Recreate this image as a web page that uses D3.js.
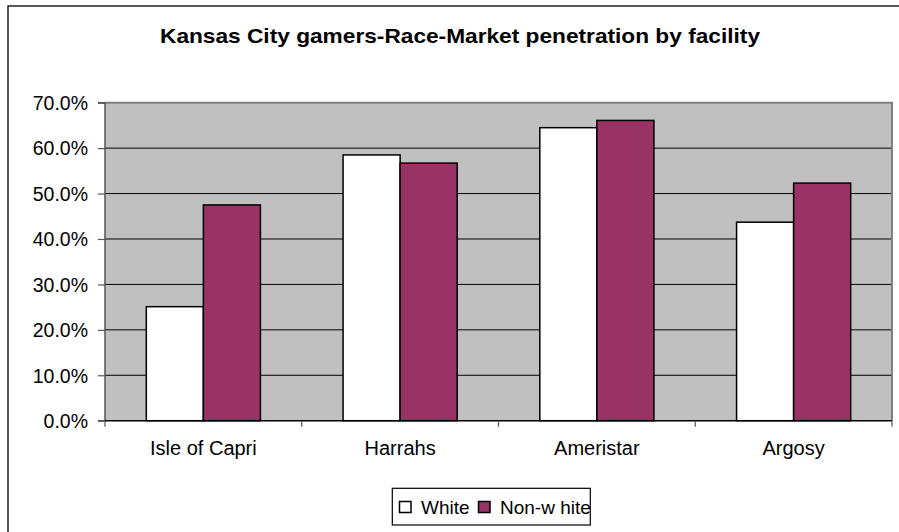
<!DOCTYPE html>
<html><head><meta charset="utf-8">
<script src="https://cdn.jsdelivr.net/npm/d3@7"></script>
<style>body{margin:0;background:#fff}svg{display:block}text{font-family:"Liberation Sans",Arial,sans-serif}</style>
</head><body>
<script>
const categories = ["Isle of Capri", "Harrahs", "Ameristar", "Argosy"];
const seriesNames = ["White", "Non-w hite"];
const white = [25.1, 58.5, 64.5, 43.7];
const nonWhite = [47.5, 56.7, 66.1, 52.3];
const yTicks = [0, 10, 20, 30, 40, 50, 60, 70];
const colors = ["#FFFFFF", "#993366"];
const title = "Kansas City gamers-Race-Market penetration by facility";

const W = 899, H = 532;
const svg = d3.select("body").append("svg").attr("width", W).attr("height", H);

// outer chart border
svg.append("rect").attr("x", 8).attr("y", 6).attr("width", 1000).attr("height", 1000)
  .attr("fill", "#fff").attr("stroke", "#222").attr("stroke-width", 1.5);

const pl = 105, pr = 892, pt = 102.7, pb = 420.7;
const x = d3.scaleBand().domain(categories).range([pl, pr]).paddingInner(0).paddingOuter(0);
const y = d3.scaleLinear().domain([0, 70]).range([pb, pt]);

svg.append("rect").attr("x", pl).attr("y", pt).attr("width", pr - pl).attr("height", pb - pt)
  .attr("fill", "#C0C0C0");

// gridlines
svg.append("g").selectAll("line").data(yTicks.filter(d => d > 0 && d < 70)).join("line")
  .attr("x1", pl).attr("x2", pr).attr("y1", d => y(d)).attr("y2", d => y(d))
  .attr("stroke", "#000").attr("stroke-width", 1);

// plot border top/right
svg.append("path").attr("d", `M${pl},${pt}H${pr}V${pb}`).attr("fill", "none")
  .attr("stroke", "#808080").attr("stroke-width", 2);

// bars
const groupW = x.bandwidth() * 0.58;
const x1 = d3.scaleBand().domain(seriesNames).range([0, groupW]);
const data = categories.map((c, i) => ({c, vals: [white[i], nonWhite[i]]}));
const g = svg.append("g");
data.forEach(d => {
  d.vals.forEach((v, j) => {
    g.append("rect")
      .attr("x", x(d.c) + (x.bandwidth() - groupW) / 2 + x1(seriesNames[j]))
      .attr("y", y(v)).attr("width", x1.bandwidth()).attr("height", y(0) - y(v))
      .attr("fill", colors[j]).attr("stroke", "#000").attr("stroke-width", 1.5);
  });
});

// y axis
const ya = d3.axisLeft(y).tickValues(yTicks).tickFormat(d => d.toFixed(1) + "%").tickSize(7).tickPadding(10);
const yg = svg.append("g").attr("transform", `translate(${pl},0)`).call(ya);
yg.select(".domain").attr("stroke", "#555").attr("stroke-width", 1.5).attr("d", `M-7,${pt}H0V${pb}H-7`);
yg.selectAll(".tick line").attr("stroke", "#555").attr("stroke-width", 1.2);
yg.selectAll("text").attr("font-size", 19.5).attr("fill", "#000").attr("dy", "0.35em");

// x axis
const xg = svg.append("g").attr("transform", `translate(0,${pb})`);
xg.append("line").attr("x1", pl).attr("x2", pr).attr("stroke", "#000").attr("stroke-width", 1.5);
xg.selectAll(".tk").data(d3.range(categories.length + 1)).join("line")
  .attr("x1", i => pl + i * x.step()).attr("x2", i => pl + i * x.step())
  .attr("y1", 0).attr("y2", 6).attr("stroke", "#555").attr("stroke-width", 1.2);
xg.selectAll(".lbl").data(categories).join("text")
  .attr("x", d => x(d) + x.bandwidth() / 2).attr("y", 34.5)
  .attr("text-anchor", "middle").attr("font-size", 20).text(d => d);

// title
svg.append("text").attr("x", 460).attr("y", 42.5).attr("text-anchor", "middle")
  .attr("font-size", 21).attr("font-weight", "bold")
  .attr("textLength", 600).attr("lengthAdjust", "spacingAndGlyphs").text(title);

// legend
const lg = svg.append("g");
lg.append("rect").attr("x", 392.3).attr("y", 488.3).attr("width", 198).attr("height", 36.7)
  .attr("fill", "#fff").attr("stroke", "#000").attr("stroke-width", 1.2);
const lx = [399.5, 478.5];
seriesNames.forEach((s, j) => {
  lg.append("rect").attr("x", lx[j]).attr("y", 501.5).attr("width", 11.5).attr("height", 11)
    .attr("fill", colors[j]).attr("stroke", "#000").attr("stroke-width", 1.5);
  lg.append("text").attr("x", lx[j] + 21.5).attr("y", 513.5).attr("font-size", 19).text(s);
});
</script>
</body></html>
